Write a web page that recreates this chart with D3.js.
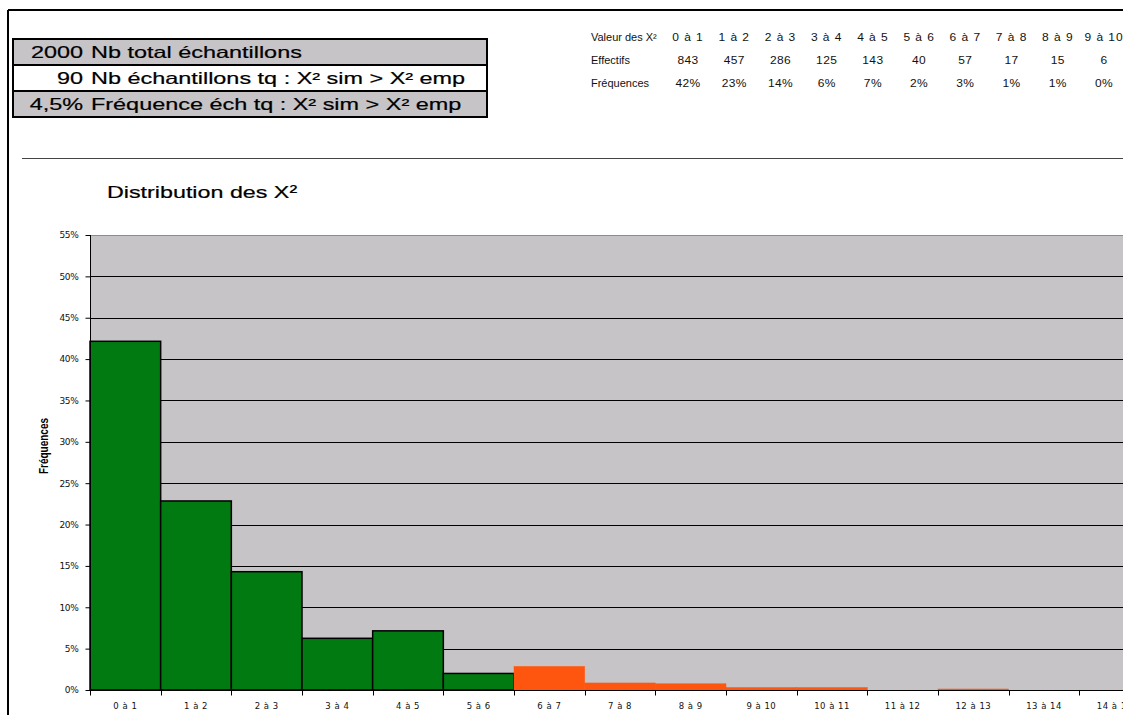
<!DOCTYPE html>
<html lang="fr">
<head>
    <meta charset="utf-8"/>
    <script src="https://d3js.org/d3.v7.min.js"></script>
    <title>Distribution des X²</title>
    <style>
        body { margin: 0; background: #fff; }
        svg { display: block; font-family: "Liberation Sans", Arial, sans-serif; }
    </style>
</head>
<body>
<svg width="1123" height="715"></svg>
<script>
    // classes of X² values
    const categories = ["0 à 1", "1 à 2", "2 à 3", "3 à 4", "4 à 5", "5 à 6", "6 à 7", "7 à 8",
        "8 à 9", "9 à 10", "10 à 11", "11 à 12", "12 à 13", "13 à 14", "14 à 15"];
    // frequency of each class (as drawn)
    const frequencies = [0.4215, 0.2285, 0.143, 0.0625, 0.0715, 0.02, 0.0285, 0.0085,
        0.0075, 0.003, 0.003, 0, 0.0012, 0, 0];
    // first class above the empirical X²
    const empIndex = 6;

    // top-right table
    const tableCats = ["0 à 1", "1 à 2", "2 à 3", "3 à 4", "4 à 5", "5 à 6", "6 à 7", "7 à 8", "8 à 9", "9 à 10"];
    const tableCounts = [843, 457, 286, 125, 143, 40, 57, 17, 15, 6];
    const tablePct = ["42%", "23%", "14%", "6%", "7%", "2%", "3%", "1%", "1%", "0%"];

    // summary boxes
    const summaryValues = ["2000", "90", "4,5%"];
    const summaryLabels = ["Nb total échantillons", "Nb échantillons tq : X² sim > X² emp", "Fréquence éch tq : X² sim > X² emp"];

    const yTicks = [0, 0.05, 0.1, 0.15, 0.2, 0.25, 0.3, 0.35, 0.4, 0.45, 0.5, 0.55];

    const green = "#027a12", orange = "#ff560f", plotBg = "#c6c4c7";
    const stretch = 1.42; // the sheet text is drawn wide

    const svg = d3.select("svg");

    // sheet frame
    svg.append("line").attr("x1", 8).attr("x2", 1123).attr("y1", 10).attr("y2", 10)
        .attr("stroke", "#000").attr("stroke-width", 2);
    svg.append("line").attr("x1", 8).attr("x2", 8).attr("y1", 10).attr("y2", 715)
        .attr("stroke", "#000").attr("stroke-width", 2);

    // summary boxes
    const boxY = d3.scaleBand().domain(d3.range(summaryValues.length)).range([39, 117]);
    const boxes = svg.append("g").selectAll("g").data(summaryValues).enter().append("g")
        .attr("transform", (d, i) => `translate(0,${boxY(i)})`);
    boxes.append("rect").attr("x", 13).attr("width", 474).attr("height", boxY.bandwidth())
        .attr("fill", (d, i) => i === 1 ? "#fff" : plotBg).attr("stroke", "#000").attr("stroke-width", 2);
    const by = boxY.bandwidth() / 2 + 6;
    boxes.append("text").attr("transform", `translate(83,${by}) scale(${stretch},1)`)
        .attr("text-anchor", "end").attr("font-size", 16.5).attr("stroke", "#000").attr("stroke-width", 0.2)
        .text(d => d);
    boxes.append("text").attr("transform", `translate(91,${by}) scale(${stretch},1)`)
        .attr("font-size", 16.5).attr("stroke", "#000").attr("stroke-width", 0.2)
        .text((d, i) => summaryLabels[i]);

    // separator
    svg.append("line").attr("x1", 22).attr("x2", 1123).attr("y1", 158.5).attr("y2", 158.5)
        .attr("stroke", "#444").attr("stroke-width", 1);

    // table
    const tx = d3.scalePoint().domain(tableCats).range([688, 1104]);
    const rows = [{label: "Valeur des X²", y: 41, vals: tableCats},
        {label: "Effectifs", y: 64, vals: tableCounts},
        {label: "Fréquences", y: 87, vals: tablePct}];
    const tg = svg.append("g").attr("font-size", 10).attr("fill", "#111");
    rows.forEach((r, ri) => {
        tg.append("text").attr("transform", `translate(591,${r.y}) scale(1.1,1)`).text(r.label);
        tg.selectAll(null).data(r.vals).enter().append("text")
            .attr("transform", (d, i) => `translate(${tx(tableCats[i])},${r.y}) scale(1.2,1)`)
            .attr("text-anchor", "middle")
            .attr("letter-spacing", ri === 0 ? 0.8 : 0.3)
            .text(d => d);
    });

    // title
    svg.append("text").attr("transform", `translate(107,198) scale(1.37,1)`)
        .attr("font-size", 17).attr("stroke", "#000").attr("stroke-width", 0.2)
        .text("Distribution des X²");

    // chart
    const x = d3.scaleBand().domain(categories).range([90, 1150]).padding(0);
    const y = d3.scaleLinear().domain([0, 0.55]).range([690, 235]);

    svg.append("rect").attr("x", 90).attr("y", y(0.55)).attr("width", 1123 - 90).attr("height", y(0) - y(0.55))
        .attr("fill", plotBg);

    svg.append("g").selectAll("line").data(yTicks.filter(t => t > 0)).enter().append("line")
        .attr("x1", 90).attr("x2", 1123).attr("y1", d => Math.round(y(d)) + 0.5).attr("y2", d => Math.round(y(d)) + 0.5)
        .attr("stroke", d => d === 0.55 ? "#8c8c8c" : "#000").attr("stroke-width", 1);

    svg.append("g").selectAll("rect").data(frequencies).enter().append("rect")
        .attr("x", (d, i) => x(categories[i]))
        .attr("y", d => y(d))
        .attr("width", x.bandwidth())
        .attr("height", d => y(0) - y(d))
        .attr("fill", (d, i) => i < empIndex ? green : orange)
        .attr("stroke", (d, i) => i < empIndex ? "#000" : orange)
        .attr("stroke-width", (d, i) => i < empIndex ? 1.5 : 0.5);

    const yAxis = svg.append("g").attr("transform", "translate(90.5,0)")
        .call(d3.axisLeft(y).tickValues(yTicks).tickFormat(d3.format(".0%")).tickSize(5).tickPadding(7));
    yAxis.select(".domain").attr("stroke", "#000").attr("d", `M0,${y(0.55)}V${y(0)}`);
    yAxis.selectAll("text").attr("font-size", 9).attr("font-family", "'DejaVu Sans', sans-serif")
        .attr("letter-spacing", -0.3).attr("fill", "#111");

    // x axis: ticks at band edges, labels centered
    const xAxis = svg.append("g").attr("transform", "translate(0,690.5)");
    xAxis.append("line").attr("x1", 90).attr("x2", 1123).attr("stroke", "#000");
    xAxis.selectAll(".tk").data(categories).enter().append("line").attr("class", "tk")
        .attr("x1", d => Math.round(x(d)) + 0.5).attr("x2", d => Math.round(x(d)) + 0.5)
        .attr("y1", 0).attr("y2", 5).attr("stroke", "#000");
    xAxis.selectAll("text").data(categories).enter().append("text")
        .attr("x", d => x(d) + x.bandwidth() / 2).attr("y", 18)
        .attr("text-anchor", "middle").attr("font-size", 8.5).attr("letter-spacing", 0.5)
        .attr("font-family", "'DejaVu Sans', sans-serif").attr("fill", "#111")
        .text(d => d);

    svg.append("text").attr("transform", "translate(48,446) scale(1.3,1) rotate(-90)")
        .attr("text-anchor", "middle").attr("font-size", 10).attr("font-weight", "bold")
        .text("Fréquences");
</script>
</body>
</html>
